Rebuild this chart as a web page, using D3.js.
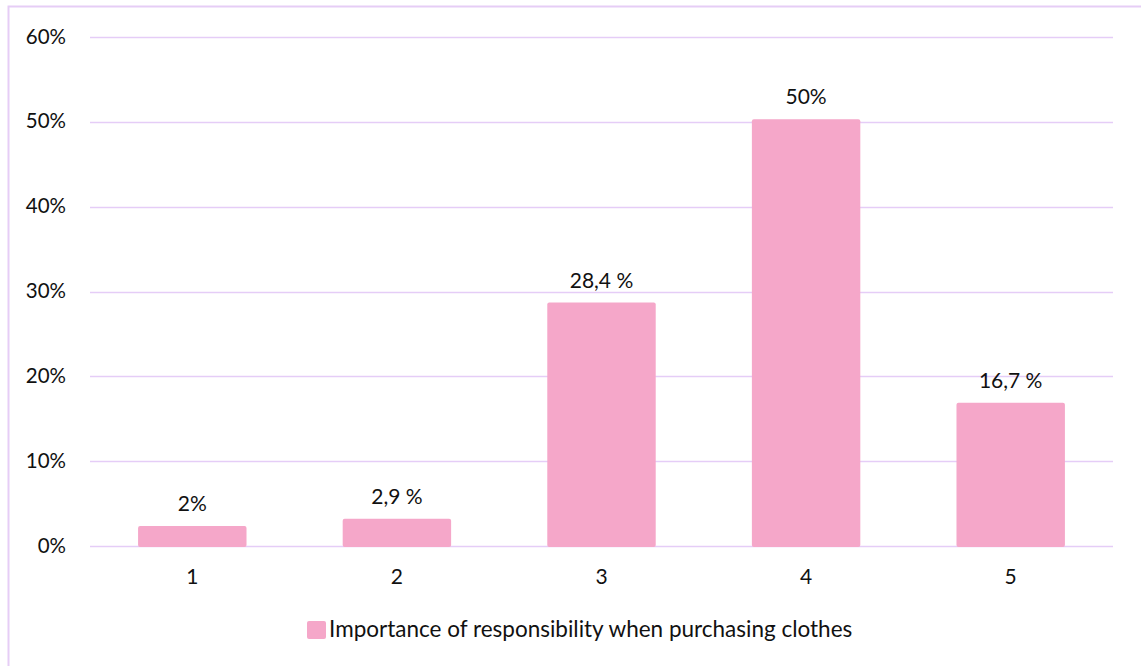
<!DOCTYPE html>
<html>
<head>
<meta charset="utf-8">
<script src="https://cdn.jsdelivr.net/npm/d3@7"></script>
<style>
  body { margin: 0; background: #fff; }
  svg { display: block; font-family: Lato, "Open Sans", sans-serif; }
</style>
</head>
<body>
<svg id="chart" width="1141" height="666"></svg>
<script>
// данные
const categories = ["1", "2", "3", "4", "5"];
const values = [2.35, 3.2, 28.7, 50.3, 16.9];
const valueLabels = ["2%", "2,9 %", "28,4 %", "50%", "16,7 %"];
const yTicks = [0, 10, 20, 30, 40, 50, 60];
const seriesName = "Importance of responsibility when purchasing clothes";

const W = 1141, H = 666;
const margin = { left: 90, right: 28, top: 37, bottom: 120 };
const textColor = '#111';
const svg = d3.select('#chart');

// рамка вокруг диаграммы, уходит за правый и нижний край
svg.append('rect')
    .attr('x', 8.5).attr('y', 6.5)
    .attr('width', W + 20).attr('height', H + 20)
    .attr('fill', 'none')
    .attr('stroke', '#e6cdf6')
    .attr('stroke-width', 2);

const x = d3.scaleBand()
    .domain(categories)
    .range([margin.left, W - margin.right])
    .paddingInner(0.47)
    .paddingOuter(0.235);

const y = d3.scaleLinear()
    .domain([0, 60])
    .range([H - margin.bottom, margin.top]);

// сетка
svg.append('g')
    .selectAll('line')
    .data(yTicks)
    .enter().append('line')
        .attr('x1', margin.left)
        .attr('x2', W - margin.right)
        .attr('y1', d => Math.round(y(d)) + 0.5)
        .attr('y2', d => Math.round(y(d)) + 0.5)
        .attr('stroke', '#e5cdf7')
        .attr('stroke-width', 1.5);

// подписи оси Y
const yAxis = svg.append('g')
    .attr('transform', 'translate(66,0)')
    .call(d3.axisLeft(y).tickValues(yTicks).tickFormat(d => d + '%').tickSize(0).tickPadding(0));
yAxis.select('.domain').remove();
yAxis.selectAll('text')
    .attr('font-family', 'Lato, "Open Sans", sans-serif')
    .attr('font-size', 20.5)
    .attr('fill', textColor)
    .attr('dy', '0.3em');

// столбцы
svg.append('g')
    .selectAll('rect')
    .data(values)
    .enter().append('rect')
        .attr('x', (d, i) => x(categories[i]))
        .attr('y', d => y(d))
        .attr('width', x.bandwidth())
        .attr('height', d => y(0) - y(d) + 1)
        .attr('rx', 2)
        .attr('fill', '#f5a7c9');

// подписи значений
svg.append('g')
    .selectAll('text')
    .data(values)
    .enter().append('text')
        .attr('x', (d, i) => x(categories[i]) + x.bandwidth() / 2)
        .attr('y', d => y(d) - 15)
        .attr('text-anchor', 'middle')
        .attr('font-size', 21)
        .attr('fill', textColor)
        .text((d, i) => valueLabels[i]);

// подписи оси X
const xAxis = svg.append('g')
    .attr('transform', `translate(0,${y(0)})`)
    .call(d3.axisBottom(x).tickSize(0).tickPadding(0));
xAxis.select('.domain').remove();
xAxis.selectAll('text')
    .attr('font-family', 'Lato, "Open Sans", sans-serif')
    .attr('font-size', 21)
    .attr('fill', textColor)
    .attr('dy', null)
    .attr('y', 38);

// легенда
const legend = svg.append('g').attr('transform', 'translate(307,630)');
legend.append('rect')
    .attr('x', 0).attr('y', -9)
    .attr('width', 19).attr('height', 18)
    .attr('rx', 2)
    .attr('fill', '#f5a7c9');
legend.append('text')
    .attr('x', 22).attr('y', 7)
    .attr('font-size', 22.5)
    .attr('fill', textColor)
    .text(seriesName);
</script>
</body>
</html>
